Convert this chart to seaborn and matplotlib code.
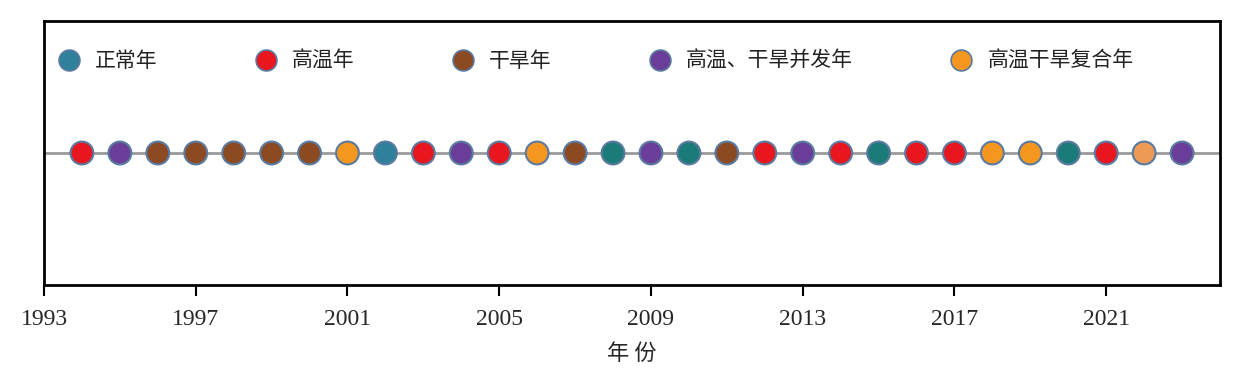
import numpy as np
import pandas as pd
import matplotlib
matplotlib.use('Agg')
import matplotlib.pyplot as plt
from matplotlib.lines import Line2D
import seaborn as sns

years = list(range(1994, 2024))
categories = ['高温年', '高温、干旱并发年', '干旱年', '干旱年', '干旱年', '干旱年', '干旱年',
              '高温干旱复合年', '正常年', '高温年', '高温、干旱并发年', '高温年', '高温干旱复合年',
              '干旱年', '正常年', '高温、干旱并发年', '正常年', '干旱年', '高温年',
              '高温、干旱并发年', '高温年', '正常年', '高温年', '高温年', '高温干旱复合年',
              '高温干旱复合年', '正常年', '高温年', '高温干旱复合年', '高温、干旱并发年']
legend_order = ['正常年', '高温年', '干旱年', '高温、干旱并发年', '高温干旱复合年']
year_ticks = list(range(1993, 2022, 4))

palette = {'正常年': '#1b7b79', '高温年': '#e8161f', '干旱年': '#8c4a22',
           '高温、干旱并发年': '#6a3e98', '高温干旱复合年': '#f5971f'}
legend_colors = dict(palette, **{'正常年': '#2e809b'})
# a few points in the source are drawn in a slightly different shade
shade = {2002: '#2e809b', 2022: '#ec9a56'}

df = pd.DataFrame({'year': years, 'category': categories, 'y': 0})
df['color'] = [shade.get(yr, palette[c]) for yr, c in zip(years, categories)]

sns.set_style('white')
plt.rcParams['font.family'] = ['Liberation Serif', 'Noto Sans CJK SC']

fig = plt.figure(figsize=(12.43, 3.70), dpi=100)
ax = fig.add_axes([44 / 1243, 85 / 370, (1220 - 44) / 1243, (285 - 21) / 370])

ax.axhline(0, color='#9a9a9a', linewidth=2, zorder=1)
sns.scatterplot(data=df, x='year', y='y', c=df['color'], s=270,
                edgecolor='#5a7aa0', linewidth=1.5, ax=ax, legend=False, zorder=3)

ax.set_xlim(1993, 2024)
ax.set_ylim(-1, 1)
ax.set_xticks(year_ticks)
ax.set_xticklabels([str(t) for t in year_ticks], fontsize=17)
ax.set_yticks([])
ax.set_ylabel('')
ax.set_xlabel('年 份', fontsize=16, family=['Noto Sans CJK SC'], labelpad=9)
ax.tick_params(axis='x', direction='out', length=8, width=1.5, color='black',
               bottom=True, pad=9)
for sp in ax.spines.values():
    sp.set_color('black')
    sp.set_linewidth(2)

handles = [Line2D([], [], marker='o', linestyle='none', markersize=15,
                  markerfacecolor=legend_colors[c], markeredgecolor='#5a7aa0',
                  markeredgewidth=1.2) for c in legend_order]
leg = ax.legend(handles, legend_order, loc='upper left', ncol=5, frameon=False,
                bbox_to_anchor=(0.0, 0.945), handlelength=1.0, handletextpad=0.75,
                columnspacing=4.7, borderaxespad=0.3,
                prop={'family': 'Noto Sans CJK SC', 'size': 15})
for t in leg.get_texts():
    t.set_color('#222222')

fig.savefig('out.png', dpi=100)
